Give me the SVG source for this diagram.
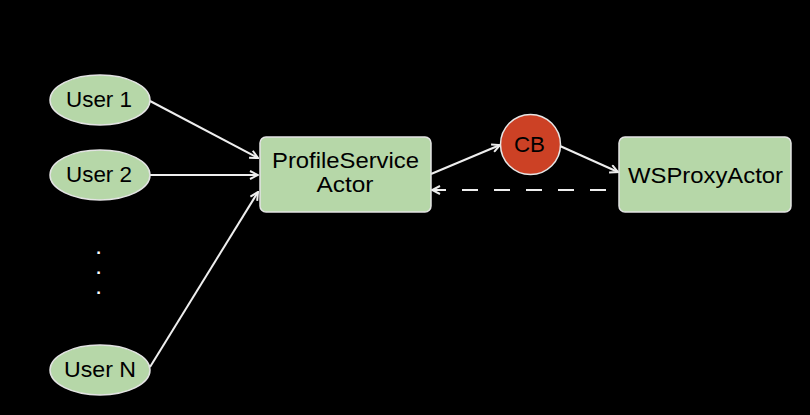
<svg xmlns="http://www.w3.org/2000/svg" width="810" height="415" viewBox="0 0 810 415">
  <style>
    .bg { fill: #000000; }
    .node { fill: #b6d7a8; stroke: #e3e3e3; stroke-width: 1.5; }
    .cb { fill: #cc4125; stroke: #e6e6e6; stroke-width: 1.5; }
    .lbl { font-family: "Liberation Sans", Arial, Helvetica, sans-serif; font-size: 22px; fill: #000000; text-anchor: middle; }
    .dots { font-family: "Liberation Sans", Arial, Helvetica, sans-serif; font-size: 17px; font-weight: bold; fill: #ffffff; }
    .edge { fill: none; stroke: #eeeeee; stroke-width: 2; }
    .dash { stroke-dasharray: 16 16; }
  </style>
  <defs>
    <marker id="arrow" viewBox="0 0 10 10" refX="9" refY="5" markerWidth="10" markerHeight="10" markerUnits="userSpaceOnUse" orient="auto">
      <path d="M1,1 L9,5 L1,9" fill="none" stroke="#eeeeee" stroke-width="2" stroke-linejoin="miter"/>
    </marker>
  </defs>
  <rect class="bg" x="0" y="0" width="810" height="415"/>

  <g id="connectors">
    <line class="edge" x1="150" y1="101" x2="258" y2="158" marker-end="url(#arrow)"/>
    <line class="edge" x1="150" y1="175" x2="258" y2="175" marker-end="url(#arrow)"/>
    <line class="edge" x1="150" y1="367" x2="258" y2="192" marker-end="url(#arrow)"/>
    <line class="edge" x1="431" y1="174" x2="500" y2="145" marker-end="url(#arrow)"/>
    <line class="edge" x1="560" y1="146" x2="618" y2="172" marker-end="url(#arrow)"/>
    <line class="edge dash" x1="606" y1="190" x2="432" y2="190" marker-end="url(#arrow)"/>
  </g>

  <g id="user1">
    <ellipse class="node" cx="100" cy="100" rx="50" ry="25"/>
    <text class="lbl" x="99" y="107" textLength="66" lengthAdjust="spacingAndGlyphs">User 1</text>
  </g>
  <g id="user2">
    <ellipse class="node" cx="100" cy="175" rx="50" ry="25"/>
    <text class="lbl" x="99" y="182" textLength="66" lengthAdjust="spacingAndGlyphs">User 2</text>
  </g>
  <g id="ellipsis">
    <text class="dots" x="96.3" y="254">.</text>
    <text class="dots" x="96.3" y="274">.</text>
    <text class="dots" x="96.3" y="294">.</text>
  </g>
  <g id="userN">
    <ellipse class="node" cx="100" cy="370" rx="50" ry="25"/>
    <text class="lbl" x="100" y="377" textLength="72" lengthAdjust="spacingAndGlyphs">User N</text>
  </g>
  <g id="profileServiceActor">
    <rect class="node" x="260" y="137" width="171" height="75" rx="6" ry="6"/>
    <text class="lbl" x="345.5" y="168" textLength="147" lengthAdjust="spacingAndGlyphs">ProfileService</text>
    <text class="lbl" x="345" y="192" textLength="57" lengthAdjust="spacingAndGlyphs">Actor</text>
  </g>
  <g id="cb">
    <circle class="cb" cx="530.5" cy="144.5" r="30"/>
    <text class="lbl" x="529.5" y="152" textLength="31" lengthAdjust="spacingAndGlyphs">CB</text>
  </g>
  <g id="wsProxyActor">
    <rect class="node" x="619" y="137" width="172" height="75" rx="6" ry="6"/>
    <text class="lbl" x="705.5" y="183" textLength="155" lengthAdjust="spacingAndGlyphs">WSProxyActor</text>
  </g>
</svg>
